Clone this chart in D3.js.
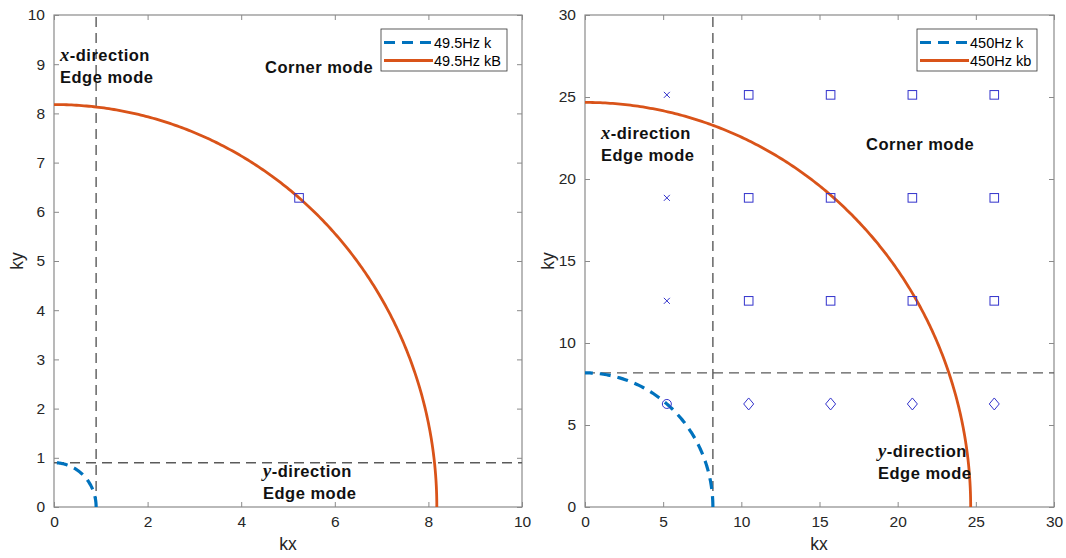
<!DOCTYPE html>
<html>
<head>
<meta charset="utf-8">
<script src="https://cdn.jsdelivr.net/npm/d3@7"></script>
<style>
  html, body { margin: 0; padding: 0; background: #fff; }
  svg { display: block; font-family: "Liberation Sans", Arial, sans-serif; }
</style>
</head>
<body>
<svg id="chart" width="1066" height="558"></svg>
<script>
// Dispersion-circle data for the two frequencies
const freqs = ["49.5Hz", "450Hz"];
const kRadius = [0.9, 8.18];          // free wavenumber k
const kbRadius = [8.18, 24.67];       // bending wavenumber kB
const legendK = ["49.5Hz k", "450Hz k"];
const legendKb = ["49.5Hz kB", "450Hz kb"];
const axisMax = [10, 30];
const xTicks = [[0, 2, 4, 6, 8, 10], [0, 5, 10, 15, 20, 25, 30]];
const yTicks = [[0, 1, 2, 3, 4, 5, 6, 7, 8, 9, 10], [0, 5, 10, 15, 20, 25, 30]];

// Mode markers (kx, ky)
const leftSquares = [[5.236, 6.283]];
const rightSquares = [
  [10.47, 25.13], [15.71, 25.13], [20.94, 25.13], [26.18, 25.13],
  [10.47, 18.85], [15.71, 18.85], [20.94, 18.85], [26.18, 18.85],
  [10.47, 12.57], [15.71, 12.57], [20.94, 12.57], [26.18, 12.57]
];
const rightCrosses = [[5.236, 25.13], [5.236, 18.85], [5.236, 12.57]];
const rightDiamonds = [[10.47, 6.283], [15.71, 6.283], [20.94, 6.283], [26.18, 6.283]];
const rightCircles = [[5.236, 6.283]];

const panels = [
  { left: 54, right: 522, top: 15, bottom: 507,
    squares: leftSquares, crosses: [], diamonds: [], circles: [],
    labels: {
      xdir: [60, 61], corner: [265, 73], ydir: [263, 477]
    },
    legend: { x: 381, y: 29, w: 126, h: 42 },
    ylabelX: 17, ylabelY: 261, xlabelX: 288 },
  { left: 585, right: 1054, top: 15, bottom: 507,
    squares: rightSquares, crosses: rightCrosses, diamonds: rightDiamonds, circles: rightCircles,
    labels: {
      xdir: [601, 139], corner: [866, 150], ydir: [878, 457]
    },
    legend: { x: 917, y: 29, w: 120, h: 42 },
    ylabelX: 548, ylabelY: 261, xlabelX: 819 }
];

const svg = d3.select("#chart");
const BLUE = "#0072BD", ORANGE = "#D95319", MARK = "#3333cc", GRID = "#5a5a5a", FRAME = "#8a8a8a", TXT = "#262626";

function arcPoints(r, n) {
  const pts = [];
  for (let i = 0; i <= n; i++) {
    const a = (Math.PI / 2) * i / n;
    pts.push([r * Math.cos(a), r * Math.sin(a)]);
  }
  return pts;
}

panels.forEach((p, i) => {
  const max = axisMax[i];
  const x = d3.scaleLinear().domain([0, max]).range([p.left, p.right]);
  const y = d3.scaleLinear().domain([0, max]).range([p.bottom, p.top]);
  const g = svg.append("g");

  // frame
  g.append("rect").attr("x", p.left).attr("y", p.top)
    .attr("width", p.right - p.left).attr("height", p.bottom - p.top)
    .attr("fill", "none").attr("stroke", FRAME).attr("stroke-width", 1.2);

  // axes (inward ticks on all four sides)
  const tl = 5;
  const bottomAx = d3.axisBottom(x).tickValues(xTicks[i]).tickSize(-tl).tickPadding(9);
  const topAx = d3.axisTop(x).tickValues(xTicks[i]).tickSize(-tl).tickFormat("");
  const leftAx = d3.axisLeft(y).tickValues(yTicks[i]).tickSize(-tl).tickPadding(9);
  const rightAx = d3.axisRight(y).tickValues(yTicks[i]).tickSize(-tl).tickFormat("");
  const styleAx = sel => {
    sel.select(".domain").remove();
    sel.selectAll(".tick line").attr("stroke", FRAME).attr("stroke-width", 1);
    sel.selectAll(".tick text").attr("fill", TXT).style("font-size", "15.5px")
      .style("font-family", "Liberation Sans, Arial, sans-serif");
  };
  g.append("g").attr("transform", `translate(0,${p.bottom})`).call(bottomAx).call(styleAx);
  g.append("g").attr("transform", `translate(0,${p.top})`).call(topAx).call(styleAx);
  g.append("g").attr("transform", `translate(${p.left},0)`).call(leftAx).call(styleAx);
  g.append("g").attr("transform", `translate(${p.right},0)`).call(rightAx).call(styleAx);

  // axis labels
  g.append("text").attr("x", p.xlabelX).attr("y", 550).attr("text-anchor", "middle")
    .attr("fill", TXT).style("font-size", "17.5px").text("kx");
  g.append("text").attr("transform", `translate(${p.ylabelX + 6},${p.ylabelY}) rotate(-90)`)
    .attr("text-anchor", "middle").attr("fill", TXT).style("font-size", "17.5px").text("ky");

  // boundary dashed lines at k
  const k = kRadius[i];
  g.append("line").attr("x1", x(k)).attr("x2", x(k)).attr("y1", y(0)).attr("y2", y(max))
    .attr("stroke", GRID).attr("stroke-width", 1.4).attr("stroke-dasharray", "10,6");
  g.append("line").attr("x1", x(0)).attr("x2", x(max)).attr("y1", y(k)).attr("y2", y(k))
    .attr("stroke", GRID).attr("stroke-width", 1.4).attr("stroke-dasharray", "10,6");

  const line = d3.line().x(d => x(d[0])).y(d => y(d[1]));
  // k circle
  g.append("path").attr("d", line(arcPoints(k, 120)))
    .attr("fill", "none").attr("stroke", BLUE).attr("stroke-width", 3.2)
    .attr("stroke-dasharray", "11,7");
  // kB circle
  g.append("path").attr("d", line(arcPoints(kbRadius[i], 240)))
    .attr("fill", "none").attr("stroke", ORANGE).attr("stroke-width", 2.8);

  // markers
  const ms = 4.3;
  g.selectAll(null).data(p.squares).enter().append("rect")
    .attr("x", d => x(d[0]) - ms).attr("y", d => y(d[1]) - ms)
    .attr("width", 2 * ms).attr("height", 2 * ms)
    .attr("fill", "none").attr("stroke", MARK).attr("stroke-width", 1);
  g.selectAll(null).data(p.crosses).enter().append("path")
    .attr("d", d => `M${x(d[0]) - 3},${y(d[1]) - 3}L${x(d[0]) + 3},${y(d[1]) + 3}M${x(d[0]) - 3},${y(d[1]) + 3}L${x(d[0]) + 3},${y(d[1]) - 3}`)
    .attr("fill", "none").attr("stroke", MARK).attr("stroke-width", 1);
  g.selectAll(null).data(p.diamonds).enter().append("path")
    .attr("d", d => `M${x(d[0])},${y(d[1]) - 6}L${x(d[0]) + 5},${y(d[1])}L${x(d[0])},${y(d[1]) + 6}L${x(d[0]) - 5},${y(d[1])}Z`)
    .attr("fill", "none").attr("stroke", MARK).attr("stroke-width", 1);
  g.selectAll(null).data(p.circles).enter().append("circle")
    .attr("cx", d => x(d[0])).attr("cy", d => y(d[1])).attr("r", 4.5)
    .attr("fill", "none").attr("stroke", MARK).attr("stroke-width", 1);

  // region annotations
  const FS = "16.5px", LS = "0.5px";
  const ann = (xx, yy, letter) => {
    const t = g.append("text").attr("x", xx).attr("y", yy).attr("fill", "#111")
      .style("font-size", FS).style("font-weight", "bold").style("letter-spacing", LS);
    t.append("tspan").style("font-family", "Liberation Serif, Times New Roman, serif")
      .style("font-style", "italic").style("font-weight", "bold").style("font-size", "18.5px").text(letter);
    t.append("tspan").text("-direction");
    g.append("text").attr("x", xx).attr("y", yy + 22).attr("fill", "#111")
      .style("font-size", FS).style("font-weight", "bold").style("letter-spacing", LS).text("Edge mode");
  };
  ann(p.labels.xdir[0], p.labels.xdir[1], "x");
  ann(p.labels.ydir[0], p.labels.ydir[1], "y");
  g.append("text").attr("x", p.labels.corner[0]).attr("y", p.labels.corner[1]).attr("fill", "#111")
    .style("font-size", FS).style("font-weight", "bold").style("letter-spacing", LS).text("Corner mode");

  // legend
  const L = p.legend;
  const lg = g.append("g");
  lg.append("rect").attr("x", L.x).attr("y", L.y).attr("width", L.w).attr("height", L.h)
    .attr("fill", "#fff").attr("stroke", "#333").attr("stroke-width", 0.8);
  const rows = [
    { label: legendK[i], color: BLUE, dash: "11,7", w: 3.2 },
    { label: legendKb[i], color: ORANGE, dash: null, w: 2.8 }
  ];
  rows.forEach((r, j) => {
    const yy = L.y + 13.5 + j * 18;
    lg.append("line").attr("x1", L.x + 3).attr("x2", L.x + 52).attr("y1", yy).attr("y2", yy)
      .attr("stroke", r.color).attr("stroke-width", r.w)
      .attr("stroke-dasharray", r.dash);
    lg.append("text").attr("x", L.x + 53).attr("y", yy + 5).attr("fill", "#000")
      .style("font-size", "14.5px").text(r.label);
  });
});
</script>
</body>
</html>
